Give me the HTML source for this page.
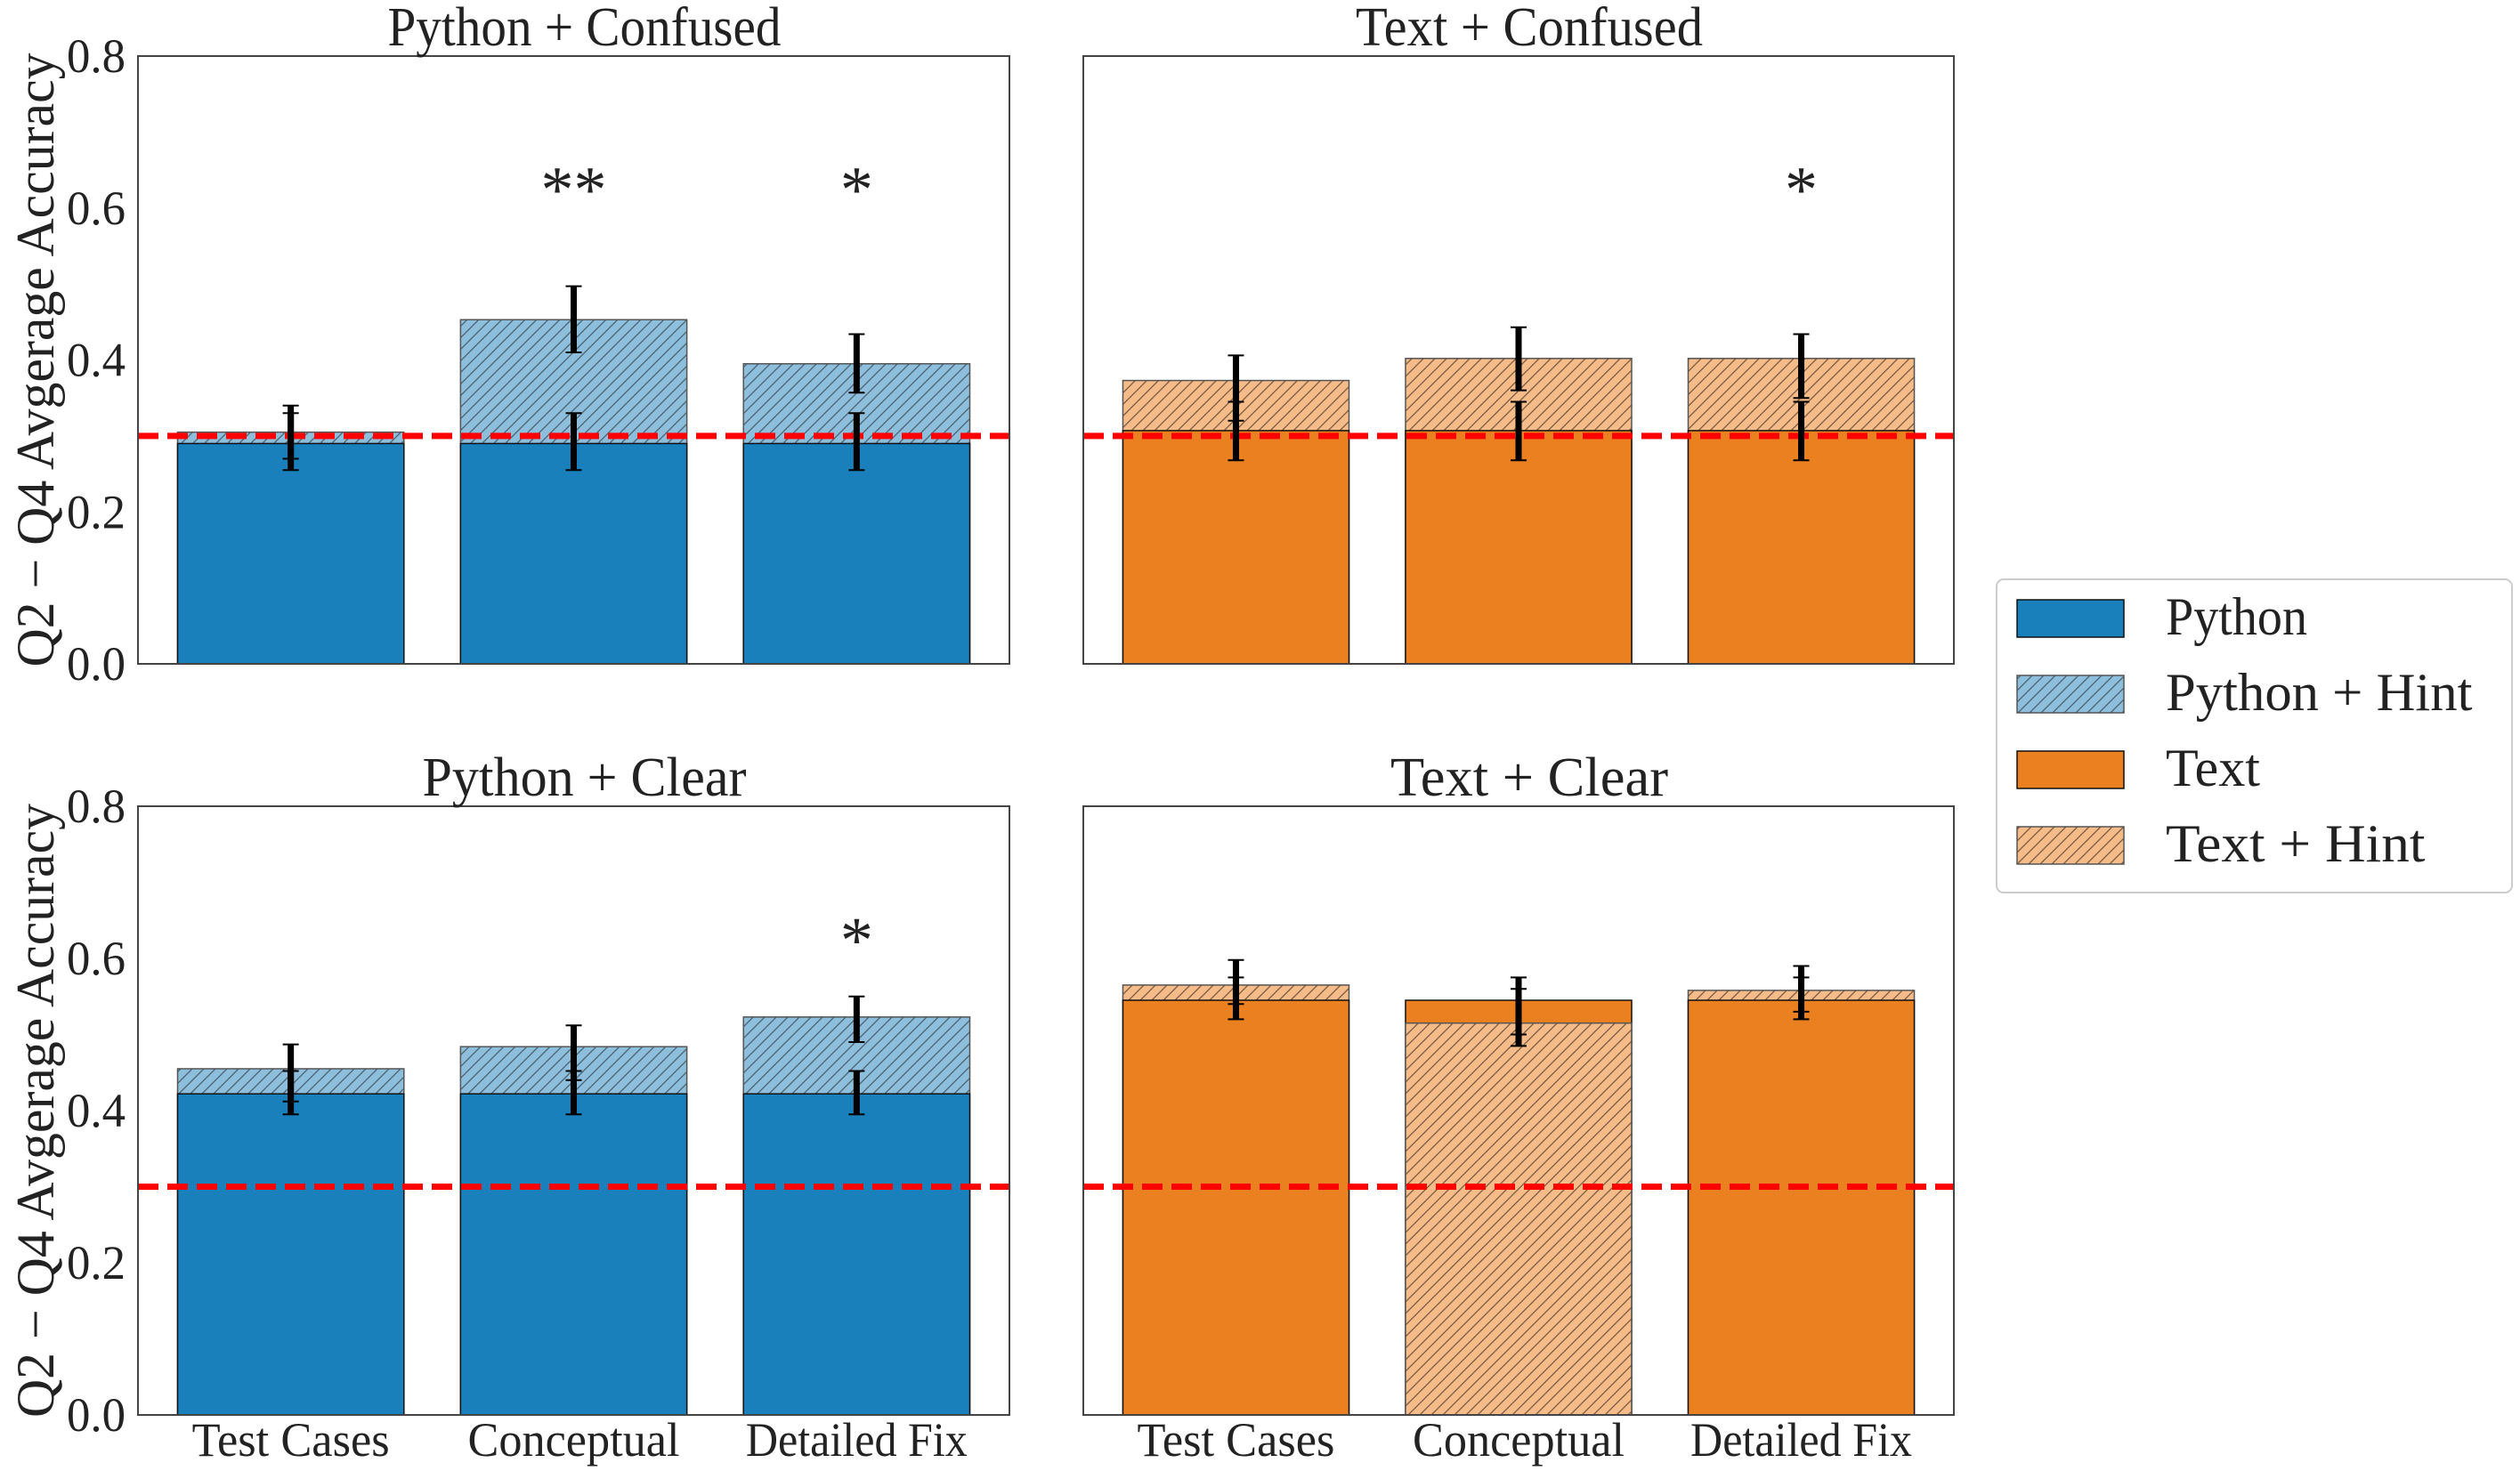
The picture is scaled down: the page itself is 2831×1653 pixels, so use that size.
<!DOCTYPE html>
<html><head><meta charset="utf-8"><style>
html,body{margin:0;padding:0;background:#fff}
svg{display:block}
text{font-family:"Liberation Serif",serif;fill:#222}
</style></head><body>
<svg id="fig" width="2831" height="1653" viewBox="0 0 2831 1653" xmlns="http://www.w3.org/2000/svg">
<defs>
<pattern id="hb" patternUnits="userSpaceOnUse" width="13" height="13"><rect width="13" height="13" fill="#8dbedb"/><path d="M-3,16 L16,-3 M-3,3 L3,-3 M10,16 L16,10" stroke="#4a6170" stroke-width="1.3"/></pattern>
<pattern id="ho" patternUnits="userSpaceOnUse" width="13" height="13"><rect width="13" height="13" fill="#f5bb88"/><path d="M-3,16 L16,-3 M-3,3 L3,-3 M10,16 L16,10" stroke="#7a5a40" stroke-width="1.3"/></pattern>
</defs>
</svg>
<script>
const categories=["Test Cases","Conceptual","Detailed Fix"];
const titles=["Python + Confused","Text + Confused","Python + Clear","Text + Clear"];
const baseVals=[[0.29,0.29,0.29],[0.307,0.307,0.307],[0.422,0.422,0.422],[0.545,0.545,0.545]];
const hintVals=[[0.305,0.453,0.395],[0.373,0.402,0.402],[0.455,0.484,0.523],[0.565,0.515,0.558]];
const baseErrLo=[[0.255,0.255,0.255],[0.268,0.268,0.268],[0.395,0.395,0.395],[0.52,0.485,0.52]];
const baseErrHi=[[0.33,0.33,0.33],[0.345,0.345,0.345],[0.452,0.452,0.452],[0.575,0.575,0.575]];
const hintErrLo=[[0.27,0.41,0.357],[0.32,0.36,0.35],[0.412,0.44,0.49],[0.54,0.50,0.53]];
const hintErrHi=[[0.34,0.497,0.434],[0.406,0.443,0.434],[0.487,0.512,0.55],[0.598,0.56,0.59]];
const stars=[["","**","*"],["","","*"],["","","*"],["","",""]];
const yTicks=[0,0.2,0.4,0.6,0.8];
const yTickLabels=["0.0","0.2","0.4","0.6","0.8"];
const refLine=0.3;
const starY=0.63;

const NS="http://www.w3.org/2000/svg";
const svg=document.getElementById('fig');
function mk(t,a,p){const e=document.createElementNS(NS,t);for(const k in a)e.setAttribute(k,a[k]);(p||svg).appendChild(e);return e;}
const panels=[{x0:155,x1:1134,y0:63,y1:746},{x0:1217,x1:2195,y0:63,y1:746},{x0:155,x1:1134,y0:906,y1:1590},{x0:1217,x1:2195,y0:906,y1:1590}];
panels.forEach((P,pi)=>{
  const g=mk('g',{});
  
  
  const py=v=>P.y1-(v/0.8)*(P.y1-P.y0);
  const step=(P.x1-P.x0)/3.08;
  const px=i=>P.x0+step*(0.54+i);
  const bw=step*0.8;
  const isPy=(pi%2===0);
  const baseFill=isPy?'#1a80bb':'#ea801f';
  const hintFill=isPy?'url(#hb)':'url(#ho)';
  categories.forEach((c,i)=>{
    const b=baseVals[pi][i],h=hintVals[pi][i];
    const drawBase=()=>{const r=mk('rect',{x:px(i)-bw/2,y:py(b),width:bw,height:py(0)-py(b),fill:baseFill,stroke:'#111','stroke-width':1.5},g);
      };
    const drawHint=()=>{const r=mk('rect',{x:px(i)-bw/2,y:py(h),width:bw,height:py(0)-py(h),fill:hintFill,stroke:'#555','stroke-width':1.5},g);
      };
    if(h>=b){drawHint();drawBase();}else{drawBase();drawHint();}
  });
  const rl=mk('line',{x1:P.x0,x2:P.x1,y1:py(refLine),y2:py(refLine),stroke:'#ff0000','stroke-width':7,'stroke-dasharray':'23 10'},g);
  
  categories.forEach((c,i)=>{
    [[baseErrLo,baseErrHi],[hintErrLo,hintErrHi]].forEach((E,k)=>{
      const lo=E[0][pi][i],hi=E[1][pi][i],x=px(i);
      const eb=mk('g',{},g);
      
      mk('line',{x1:x,x2:x,y1:py(lo),y2:py(hi),stroke:'#000','stroke-width':7},eb);
      mk('line',{x1:x-9,x2:x+9,y1:py(lo),y2:py(lo),stroke:'#000','stroke-width':2},eb);
      mk('line',{x1:x-9,x2:x+9,y1:py(hi),y2:py(hi),stroke:'#000','stroke-width':2},eb);
    });
    if(stars[pi][i]){const s=mk('text',{x:px(i),y:py(starY)+30,'text-anchor':'middle','font-size':74},g);s.textContent=stars[pi][i];
      }
  });
  const fr=mk('rect',{x:P.x0,y:P.y0,width:P.x1-P.x0,height:P.y1-P.y0,fill:'none',stroke:'#444','stroke-width':2},g);
  
  const t=mk('text',{x:(P.x0+P.x1)/2+12,y:P.y0-12,'text-anchor':'middle','font-size':62,textLength:titles[pi].length*26,lengthAdjust:'spacingAndGlyphs'},g);
  t.textContent=titles[pi];
  if(isPy){
    yTicks.forEach((v,k)=>{const tl=mk('text',{x:P.x0-14,y:py(v)+18,'text-anchor':'end','font-size':54,textLength:66,lengthAdjust:'spacingAndGlyphs'},g);
      tl.textContent=yTickLabels[k];});
    const yl=mk('text',{x:0,y:0,'text-anchor':'middle','font-size':60,textLength:690,lengthAdjust:'spacingAndGlyphs',transform:`translate(60,${(P.y0+P.y1)/2}) rotate(-90)`},g);
    yl.textContent="Q2 − Q4 Avgerage Accuracy";
  }
  if(pi>=2){
    const wl=[222,238,249];
    categories.forEach((c,i)=>{const xl=mk('text',{x:px(i),y:P.y1+46,'text-anchor':'middle','font-size':54,textLength:wl[i],lengthAdjust:'spacingAndGlyphs'},g);
      xl.textContent=c;});
  }
});
const lg=mk('g',{});

mk('rect',{x:2243,y:651,width:579,height:352,rx:8,fill:'#fff',stroke:'#ccc','stroke-width':2},lg);
const legLabels=["Python","Python + Hint","Text","Text + Hint"];
const legFills=['#1a80bb','url(#hb)','#ea801f','url(#ho)'];
legLabels.forEach((l,k)=>{
  const cy=695+k*85;
  const e=mk('g',{},lg);
  
  mk('rect',{x:2266,y:cy-21,width:120,height:42,fill:legFills[k],stroke:k%2?'#555':'#111','stroke-width':1.5},e);
  const t=mk('text',{x:2433,y:cy+18,'font-size':60,textLength:l.length*26.5,lengthAdjust:'spacingAndGlyphs'},e);t.textContent=l;
});
</script>
</body></html>
